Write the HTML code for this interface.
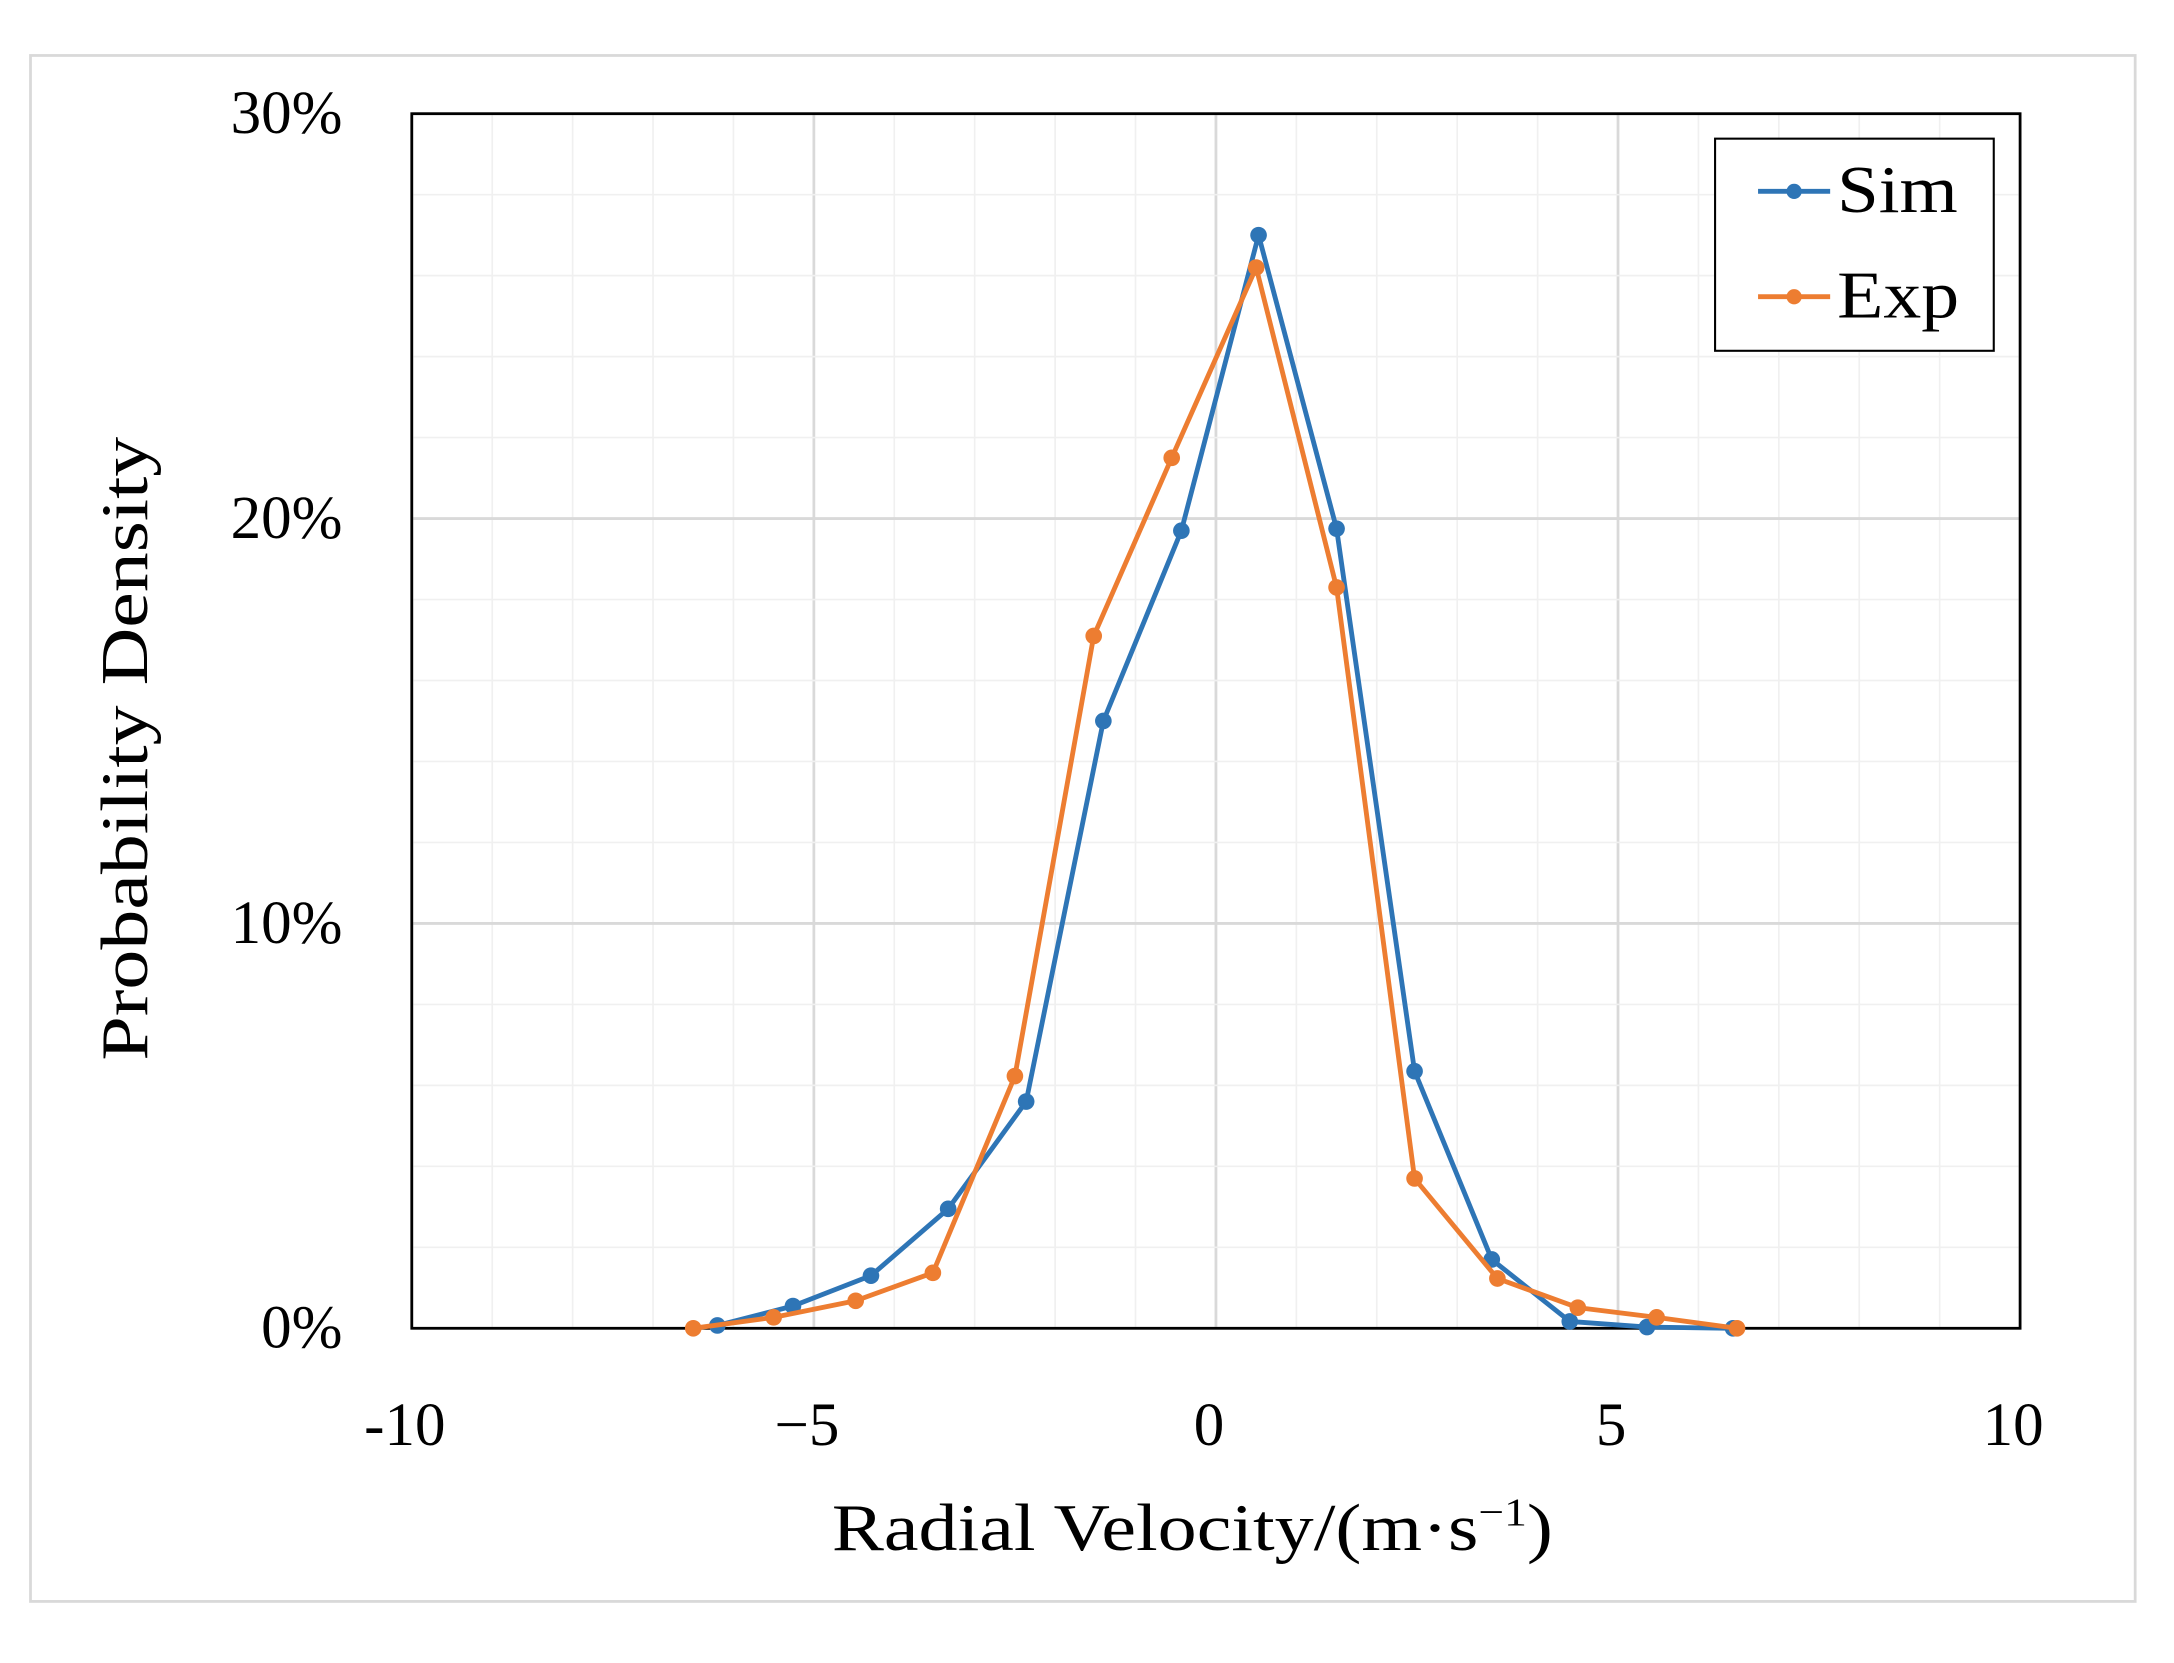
<!DOCTYPE html>
<html><head><meta charset="utf-8"><style>
html,body{margin:0;padding:0;background:#fff;}
svg{display:block;}
text{font-family:"Liberation Serif",serif;fill:#000;}
</style></head><body>
<svg id="chart" width="2174" height="1663" viewBox="0 0 1568 1199.4" preserveAspectRatio="none" xmlns="http://www.w3.org/2000/svg">
<rect x="22" y="40" width="1518" height="1115" fill="#fff" stroke="#d9d9d9" stroke-width="2"/>
<g id="grid"></g>
<g id="axes"></g>
<g id="series"></g>
<text transform="translate(106,540) rotate(-90)" text-anchor="middle" font-size="48" textLength="450" lengthAdjust="spacingAndGlyphs">Probability Density</text>
<text x="600" y="1118" font-size="48" textLength="520" lengthAdjust="spacingAndGlyphs">Radial Velocity/(m·s<tspan font-size="28" dy="-18">−1</tspan><tspan dy="18">)</tspan></text>
<g>
<rect x="1237" y="100" width="201" height="153" fill="#fff" stroke="#000" stroke-width="1.5"/>
<g>
<line x1="1268" y1="138" x2="1320" y2="138" stroke="#2e75b6" stroke-width="3.5"/><circle cx="1294" cy="138" r="5.5" fill="#2e75b6"/>
<text x="1325" y="153" font-size="48" textLength="87" lengthAdjust="spacingAndGlyphs">Sim</text></g>
<g>
<line x1="1268" y1="214" x2="1320" y2="214" stroke="#ed7d31" stroke-width="3.5"/><circle cx="1294" cy="214" r="5.5" fill="#ed7d31"/>
<text x="1325" y="229" font-size="48" textLength="88" lengthAdjust="spacingAndGlyphs">Exp</text></g>
</g>
</svg>
<script>
const simX=[-6.2,-5.26,-4.29,-3.33,-2.36,-1.4,-0.43,0.53,1.5,2.47,3.43,4.4,5.36,6.43];
const simY=[0.07,0.55,1.3,2.95,5.6,15.0,19.7,27.0,19.75,6.35,1.7,0.17,0.03,0];
const expX=[-6.5,-5.5,-4.48,-3.52,-2.5,-1.52,-0.55,0.5,1.5,2.47,3.5,4.5,5.48,6.48];
const expY=[0,0.27,0.68,1.37,6.23,17.1,21.5,26.2,18.3,3.7,1.23,0.51,0.27,0];
const xTicks=[-10,-5,0,5,10];
const xTickLabels=["-10","\u22125","0","5","10"];
const yTicks=[0,10,20,30];
const yTickLabels=["0%","10%","20%","30%"];
const NS="http://www.w3.org/2000/svg";
const X0=297,X1=1457,Y0=958,Y1=82;
function sx(v){return X0+(v+10)/20*(X1-X0);}
function sy(v){return Y0-v/30*(Y0-Y1);}
function mk(tag,attrs,parent){const e=document.createElementNS(NS,tag);for(const k in attrs)e.setAttribute(k,attrs[k]);parent.appendChild(e);return e;}
const grid=document.getElementById('grid'),axes=document.getElementById('axes'),series=document.getElementById('series');
for(let v=-10;v<=10;v++){const l=mk('line',{x1:sx(v),x2:sx(v),y1:Y1,y2:Y0,stroke:v%5===0?'#d9d9d9':'#f0f0f0','stroke-width':v%5===0?2:1.2},grid);

}
for(let v=0;v<=30;v+=2){const l=mk('line',{x1:X0,x2:X1,y1:sy(v),y2:sy(v),stroke:v%10===0?'#d9d9d9':'#f0f0f0','stroke-width':v%10===0?2:1.2},grid);

}
const pr=mk('rect',{x:X0,y:Y1,width:X1-X0,height:Y0-Y1,fill:'none',stroke:'#000','stroke-width':2},axes);


xTicks.forEach((v,i)=>{const t=mk('text',{x:sx(v)-5,y:1042,'text-anchor':'middle','font-size':44},axes);t.textContent=xTickLabels[i];

});
yTicks.forEach((v,i)=>{const t=mk('text',{x:247,y:sy(v)+14,'text-anchor':'end','font-size':44},axes);t.textContent=yTickLabels[i];

});
function draw(xs,ys,color,name){
const g=mk('g',{},series);


const pl=mk('polyline',{points:xs.map((x,i)=>sx(x)+','+sy(ys[i])).join(' '),fill:'none',stroke:color,'stroke-width':3.5,'stroke-linejoin':'round'},g);


xs.forEach((x,i)=>{const c=mk('circle',{cx:sx(x),cy:sy(ys[i]),r:6,fill:color},g);

});}
draw(simX,simY,'#2e75b6','sim');
draw(expX,expY,'#ed7d31','exp');
</script>
</body></html>
